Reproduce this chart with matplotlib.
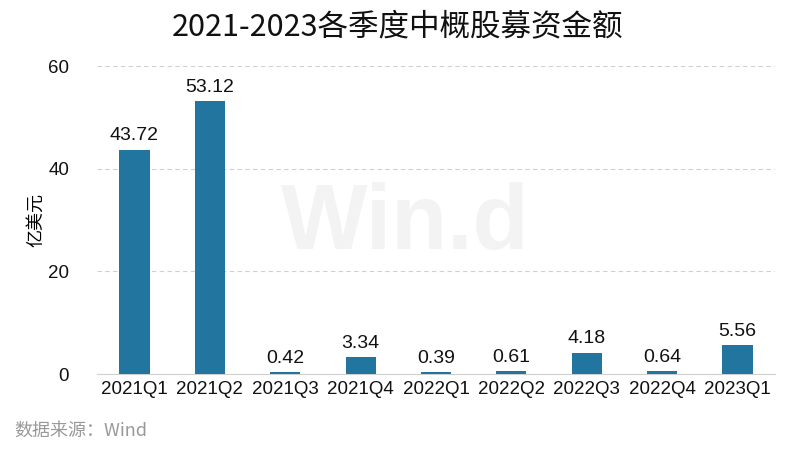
import matplotlib.pyplot as plt

plt.rcParams['font.family'] = ['Noto Sans CJK SC', 'DejaVu Sans']

# data
quarters = ['2021Q1', '2021Q2', '2021Q3', '2021Q4', '2022Q1',
            '2022Q2', '2022Q3', '2022Q4', '2023Q1']
amounts = [43.72, 53.12, 0.42, 3.34, 0.39, 0.61, 4.18, 0.64, 5.56]
yticks = [0, 20, 40, 60]

fig = plt.figure(figsize=(7.87, 4.49), dpi=100)
ax = fig.add_axes([0.123, 0.167, 0.862, 0.686])

x = range(len(quarters))
bars = ax.bar(x, amounts, width=0.4, color='#21759f', zorder=3)

for xi, v in zip(x, amounts):
    ax.text(xi, v + 1.0, f'{v:.2f}', ha='center', va='bottom',
            fontsize=14, family='Liberation Sans', color='#111111')

ax.set_xlim(-0.5, len(quarters) - 0.5)
ax.set_ylim(0, 60)
ax.set_yticks(yticks)
ax.set_xticks(list(x))
ax.set_xticklabels(quarters)
for lab in ax.get_xticklabels() + ax.get_yticklabels():
    lab.set_family('Liberation Sans')
    lab.set_fontsize(13.5)
    lab.set_color('#111111')

ax.grid(axis='y', linestyle=(0, (4, 3)), color='#d0d0d0', linewidth=0.8, zorder=0)
for s in ['top', 'right', 'left']:
    ax.spines[s].set_visible(False)
ax.spines['bottom'].set_color('#d0d0d0')
ax.tick_params(length=0, pad=5)
ax.tick_params(axis='y', pad=20)

ax.set_ylabel('亿美元', fontsize=13, labelpad=2)

# watermark
fig.text(0.515, 0.5, 'Win.d', fontsize=66, fontweight='bold', color='#f3f3f3',
         ha='center', va='center', family='Liberation Sans', zorder=0)

fig.text(0.505, 0.94, '2021-2023各季度中概股募资金额', fontsize=22,
         ha='center', va='center', color='#111111')
fig.text(0.018, 0.04, '数据来源：Wind', fontsize=13, color='#999999',
         ha='left', va='center')

fig.savefig('out.png', dpi=100)
